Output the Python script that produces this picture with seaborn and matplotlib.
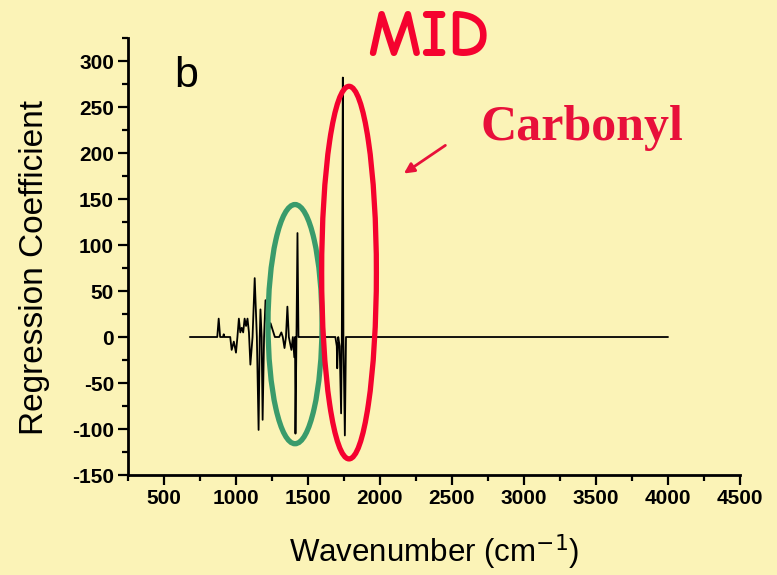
import matplotlib
matplotlib.use("Agg")
import matplotlib.pyplot as plt
from matplotlib.patches import Ellipse
from matplotlib.ticker import MultipleLocator
import seaborn as sns
import pandas as pd

# ---- data ----
wavenumber = [680, 870, 880, 890, 910, 915, 920, 960, 970, 985, 1000, 1010,
              1020, 1030, 1040, 1050, 1060, 1070, 1080, 1090, 1100, 1115,
              1130, 1145, 1157, 1165, 1170, 1178, 1185, 1195, 1205, 1220,
              1240, 1250, 1260, 1270, 1300, 1315, 1325, 1337, 1347, 1357,
              1367, 1385, 1395, 1405, 1410, 1413, 1420, 1427, 1434, 1440,
              1690, 1700, 1703, 1710, 1720, 1730, 1735, 1742, 1746, 1756,
              1764, 4000]
coefficient = [0, 0, 20, 0, 0, 3, 0, 0, -14, -5, -17, 0,
               20, 5, 10, 5, 20, 12, 20, 5, -30, 0,
               64, 0, -101, 0, 30, 0, -90, 0, 40, 0,
               15, 10, 5, 0, 0, 5, 0, -12, 0, 33,
               0, -14, 0, -22, 0, -105, 0, 113, 0, 0,
               0, -10, -34, 0, -10, -83, 0, 282, 0, -107,
               0, 0]

green_region = dict(center=(1410, 14), width=375, height=260)
red_region = dict(center=(1785, 70), width=380, height=405)

x_ticks = [500, 1000, 1500, 2000, 2500, 3000, 3500, 4000, 4500]
y_ticks = [-150, -100, -50, 0, 50, 100, 150, 200, 250, 300]

df = pd.DataFrame({"Wavenumber": wavenumber, "Coefficient": coefficient})

bg = "#FBF3B7"
sns.set_theme(style="ticks")
plt.rcParams["font.family"] = ["Liberation Sans", "DejaVu Sans"]
plt.rcParams["axes.unicode_minus"] = False

fig = plt.figure(figsize=(7.77, 5.75), dpi=100, facecolor=bg)
ax = fig.add_axes([0.1647, 0.1739, 0.9524 - 0.1647, 0.9339 - 0.1739])
ax.set_facecolor(bg)

sns.lineplot(data=df, x="Wavenumber", y="Coefficient", sort=False,
             estimator=None, color="black", linewidth=1.3, ax=ax)

ax.add_patch(Ellipse(green_region["center"], green_region["width"],
                     green_region["height"], fill=False,
                     edgecolor="#3A9B6B", linewidth=3.8, zorder=3))
ax.add_patch(Ellipse(red_region["center"], red_region["width"],
                     red_region["height"], fill=False,
                     edgecolor="#F5022F", linewidth=3.8, zorder=3))

ax.set_xlim(250, 4500)
ax.set_ylim(-150, 325)
ax.set_xticks(x_ticks)
ax.set_yticks(y_ticks)
ax.xaxis.set_minor_locator(MultipleLocator(250))
ax.yaxis.set_minor_locator(MultipleLocator(25))

for s in ["top", "right"]:
    ax.spines[s].set_visible(False)
for s in ["left", "bottom"]:
    ax.spines[s].set_linewidth(2)
    ax.spines[s].set_color("black")

ax.tick_params(which="major", direction="out", length=7, width=1.6,
               color="black", pad=3)
ax.tick_params(which="minor", direction="out", length=4, width=1.6,
               color="black")
for lab in ax.get_xticklabels() + ax.get_yticklabels():
    lab.set_fontweight("bold")
    lab.set_fontsize(15)
    lab.set_color("black")

ax.set_xlabel("Wavenumber (cm$^{-1}$)", fontsize=22.5, color="black", labelpad=18)
ax.set_ylabel("Regression Coefficient", fontsize=24, color="black")
ax.yaxis.set_label_coords(-0.127, 0.475)

ax.text(186 / 777, 1 - 56 / 575, "b", transform=fig.transFigure, fontsize=31,
        ha="center", va="top", color="black")
fig.text(428 / 777, 1 - 40 / 575, "MID", fontsize=48, fontweight="bold",
         color="#F5022F", ha="center", va="center",
         family=["Comic Neue", "DejaVu Sans"])
fig.text(582 / 777, 1 - 128 / 575, "Carbonyl", fontsize=36, fontweight="bold",
         color="#E8103A", ha="center", va="center",
         family=["Liberation Serif", "DejaVu Serif"])
ax.annotate("", xy=(2150, 176), xytext=(2470, 210),
            arrowprops=dict(arrowstyle="-|>", color="#E8103A", lw=2,
                            mutation_scale=15))

fig.savefig("out.png", dpi=100, facecolor=bg)
